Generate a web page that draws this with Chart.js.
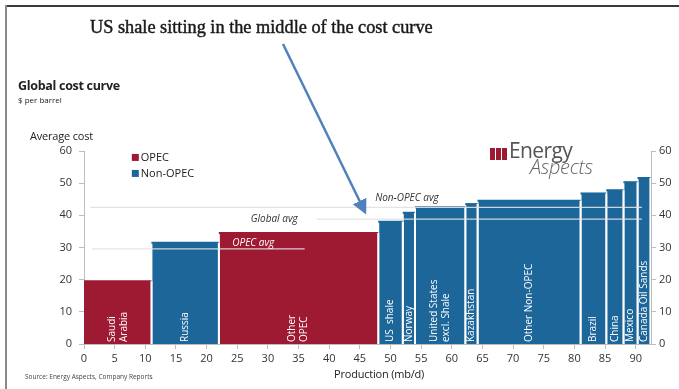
<!DOCTYPE html>
<html>
<head>
<meta charset="utf-8">
<script src="https://cdn.jsdelivr.net/npm/chart.js@4.4.0/dist/chart.umd.min.js"></script>
<style>
  body { margin: 0; background: #fff; }
  #wrap { position: relative; width: 679px; height: 389px; overflow: hidden; background: #fff; font-family: "Open Sans", sans-serif; }
  #chart { position: absolute; left: 0; top: 0; }
  .frame-top { position: absolute; left: 6px; top: 5px; width: 673px; height: 2px; background: #3a3a3a; }
  .frame-left { position: absolute; left: 5px; top: 5px; width: 2px; height: 384px; background: #8a8a8a; }
  .txt { position: absolute; white-space: nowrap; color: #222; }
  #headline { left: 90px; top: 17px; font-family: "Liberation Serif", serif; font-size: 18.3px; color: #1a1a1a; -webkit-text-stroke: 0.45px #1a1a1a; }
  #title { left: 18px; top: 77px; font-size: 12.5px; font-weight: bold; letter-spacing: -0.3px; }
  #unit { left: 18px; top: 94px; font-size: 8px; }
  #ytitle { left: 30px; top: 128px; font-size: 11px; letter-spacing: -0.2px; }
  #xtitle { left: 334px; top: 366px; font-size: 11px; letter-spacing: -0.2px; }
  #source { left: 25px; top: 372px; font-size: 6.5px; color: #444; }
  #logo { position: absolute; left: 490px; top: 136px; width: 115px; height: 44px; }
  #logo .bars { position: absolute; left: 0; top: 12px; font-size: 0; }
  #logo .bars span { display: inline-block; width: 4.5px; height: 12px; background: #9e1a33; margin-right: 1.5px; }
  #logo .e1 { position: absolute; left: 19px; top: 0px; font-size: 21px; color: #555; letter-spacing: -0.6px; }
  #logo .e2 { position: absolute; left: 40px; top: 17px; font-size: 20px; color: #666; font-style: italic; letter-spacing: -0.3px; font-weight: 300; }
  #arrow { position: absolute; left: 0; top: 0; }
</style>
</head>
<body>
<div id="wrap">
  <canvas id="chart" width="679" height="389"></canvas>
  <div class="frame-top"></div>
  <div class="frame-left"></div>
  <div class="txt" id="headline">US shale sitting in the middle of the cost curve</div>
  <div class="txt" id="title">Global cost curve</div>
  <div class="txt" id="unit">$ per barrel</div>
  <div class="txt" id="ytitle">Average cost</div>
  <div class="txt" id="xtitle">Production (mb/d)</div>
  <div class="txt" id="source">Source: Energy Aspects, Company Reports</div>
  <div id="logo">
    <div class="bars"><span></span><span></span><span></span></div>
    <div class="txt e1">Energy</div>
    <div class="txt e2">Aspects</div>
  </div>
  <svg id="arrow" width="679" height="389">
    <defs>
      <marker id="head" markerWidth="6" markerHeight="6" refX="4" refY="3" orient="auto" markerUnits="strokeWidth">
        <path d="M0,0 L6,3 L0,6 z" fill="#4f81bd"></path>
      </marker>
    </defs>
    <line x1="283" y1="44" x2="364" y2="210" stroke="#4f81bd" stroke-width="2.5" marker-end="url(#head)"></line>
  </svg>
</div>
<script>
// producers along the curve, left to right
const producers = [
  ["Saudi", "Arabia"], ["Russia"], ["Other", "OPEC"], ["US  shale"], ["Norway"],
  ["United States", "excl. Shale"], ["Kazakhstan"], ["Other Non-OPEC"], ["Brazil"],
  ["China"], ["Mexico"], ["Canada Oil Sands"]
];
const group = ["OPEC", "Non-OPEC", "OPEC", "Non-OPEC", "Non-OPEC", "Non-OPEC",
  "Non-OPEC", "Non-OPEC", "Non-OPEC", "Non-OPEC", "Non-OPEC", "Non-OPEC"];
// cumulative production (mb/d) where each block starts and ends
const prodStart = [0, 11, 22, 48, 52, 54, 62.2, 64.2, 81, 85.2, 88, 90.3];
const prodEnd = [11, 22, 48, 52, 54, 62.2, 64.2, 81, 85.2, 88, 90.3, 92.4];
// average cost, $ per barrel
const avgCost = [19.5, 31.5, 34.5, 38, 40.8, 42.5, 43.5, 44.5, 46.8, 47.8, 50.3, 51.6];

// reference averages
const avgNames = ["Non-OPEC avg", "Global avg", "OPEC avg"];
const avgValues = [42.5, 38.8, 29.6];
const avgFrom = [1, 38, 1.3];
const avgTo = [91, 91, 36];

const yTicks = [0, 10, 20, 30, 40, 50, 60];

const RED = "#9e1a33";
const BLUE = "#1c6699";
const colorOf = g => (g === "OPEC" ? RED : BLUE);

const datasets = [];

avgNames.forEach((name, i) => {
  datasets.push({
    label: name,
    data: [{ x: avgFrom[i], y: avgValues[i] }, { x: avgTo[i], y: avgValues[i] }],
    borderColor: "rgba(225,225,225,0.9)",
    borderWidth: 1.3,
    pointRadius: 0,
    fill: false,
    order: 0
  });
});

producers.forEach((p, i) => {
  const c = colorOf(group[i]);
  datasets.push({
    label: p.join(" "),
    data: [
      { x: prodStart[i], y: 0 },
      { x: prodStart[i], y: avgCost[i] },
      { x: prodEnd[i], y: avgCost[i] },
      { x: prodEnd[i], y: 0 }
    ],
    backgroundColor: c,
    borderColor: c,
    borderWidth: 2,
    // sides in white so neighbouring blocks stay apart (not on the axis)
    segment: {
      borderColor: s => (s.p0DataIndex === 1 || (s.p0DataIndex === 0 && prodStart[i] === 0) ? c : "#fff")
    },
    pointRadius: 0,
    tension: 0,
    fill: "origin",
    order: 1
  });
});

// white block names standing up inside each block
const blockLabels = {
  id: "blockLabels",
  afterDatasetsDraw(chart) {
    const { ctx, scales: { x, y } } = chart;
    ctx.save();
    ctx.fillStyle = "#fff";
    ctx.font = "10px 'Open Sans'";
    ctx.textAlign = "left";
    ctx.textBaseline = "middle";
    producers.forEach((lines, i) => {
      const cx = x.getPixelForValue((prodStart[i] + prodEnd[i]) / 2);
      const by = y.getPixelForValue(0) - 2;
      const step = 12;
      lines.forEach((t, k) => {
        const lx = cx + (k - (lines.length - 1) / 2) * step;
        ctx.save();
        ctx.translate(lx, by);
        ctx.rotate(-Math.PI / 2);
        ctx.fillText(t, 0, 0);
        ctx.restore();
      });
    });
    // names of the average lines
    ctx.font = "italic 10px 'Open Sans'";
    ctx.textAlign = "left";
    ctx.fillStyle = "#333";
    ctx.fillText(avgNames[0], x.getPixelForValue(47.5), y.getPixelForValue(avgValues[0]) - 9);
    ctx.fillText(avgNames[1], x.getPixelForValue(27.2), y.getPixelForValue(avgValues[1]));
    ctx.fillStyle = "#fff";
    ctx.fillText(avgNames[2], x.getPixelForValue(24.2), y.getPixelForValue(avgValues[2]) - 6);
    ctx.restore();
  }
};

// OPEC / Non-OPEC key inside the plot
const groupKey = {
  id: "groupKey",
  afterDraw(chart) {
    const { ctx, scales: { x, y } } = chart;
    ctx.save();
    ctx.font = "11px 'Open Sans'";
    ctx.textBaseline = "middle";
    ["OPEC", "Non-OPEC"].forEach((g, k) => {
      const px = x.getPixelForValue(7.8);
      const py = y.getPixelForValue(58) + k * 16;
      ctx.fillStyle = colorOf(g);
      ctx.fillRect(px, py - 3.5, 7, 7);
      ctx.fillStyle = "#222";
      ctx.fillText(g, px + 9, py);
    });
    ctx.restore();
  }
};

const yAxis = (pos) => ({
  type: "linear",
  position: pos,
  min: 0,
  max: 60,
  afterBuildTicks: s => { s.ticks = yTicks.map(v => ({ value: v })); },
  afterFit: s => { s.width = pos === "left" ? 40 : 28; },
  border: { display: true, color: "#bdbdbd" },
  grid: { drawOnChartArea: false, tickLength: 5, color: "#bdbdbd" },
  ticks: { color: "#333", font: { size: 11, family: "Open Sans" }, padding: pos === "left" ? 7 : 3 }
});

new Chart(document.getElementById("chart"), {
  type: "line",
  data: { datasets },
  plugins: [blockLabels, groupKey],
  options: {
    responsive: false,
    animation: false,
    layout: { padding: { left: 44, right: 0, top: 151, bottom: 21 } },
    plugins: { legend: { display: false }, tooltip: { enabled: false } },
    scales: {
      x: {
        type: "linear",
        min: 0,
        max: 92.5,
        afterBuildTicks: s => {
          const t = [];
          for (let v = 0; v <= 90; v += 5) t.push({ value: v });
          s.ticks = t;
        },
        afterFit: s => { s.height = 24; },
        border: { display: true, color: "#bdbdbd" },
        grid: { drawOnChartArea: false, tickLength: 5, color: "#bdbdbd" },
        ticks: { color: "#333", font: { size: 11, family: "Open Sans" }, padding: 3, maxRotation: 0 }
      },
      y: yAxis("left"),
      y2: yAxis("right")
    }
  }
});
</script>
</body>
</html>
